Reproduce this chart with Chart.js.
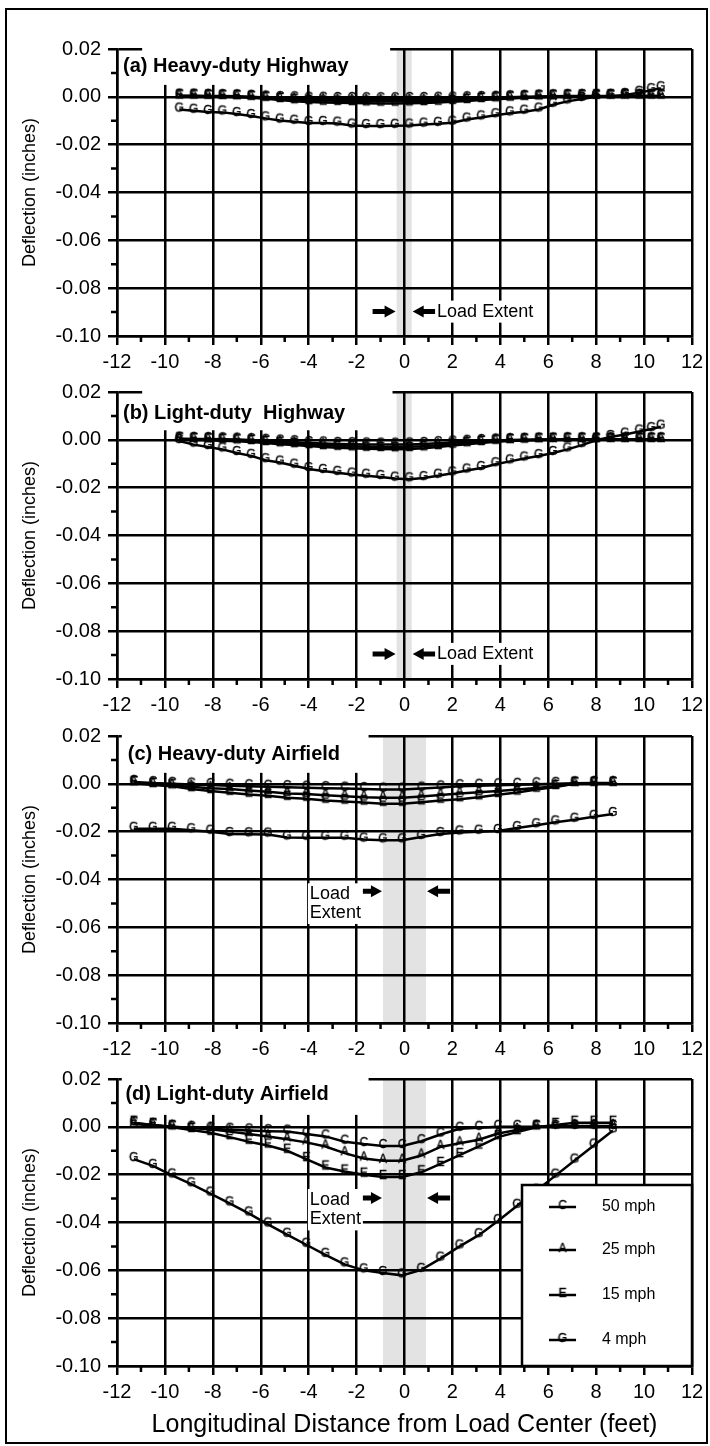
<!DOCTYPE html>
<html>
<head>
<meta charset="utf-8">
<script src="https://cdn.jsdelivr.net/npm/chart.js@4.4.1/dist/chart.umd.min.js"></script>
<style>
  html, body { margin: 0; padding: 0; background: #fff; }
  #page { position: relative; width: 710px; height: 1446px; overflow: hidden; }
  #page canvas { position: absolute; left: 0; }
  #frame { position: absolute; left: 5px; top: 8px; width: 699px; height: 1432px; border: 2px solid #000; }
</style>
</head>
<body>
<div id="page">
  <div id="frame"></div>
  <canvas id="panelA" width="710" height="375" style="top:5px"></canvas>
  <canvas id="panelB" width="710" height="375" style="top:348px"></canvas>
  <canvas id="panelC" width="710" height="375" style="top:692px"></canvas>
  <canvas id="panelD" width="710" height="411" style="top:1035px"></canvas>
</div>
<script>
const FONT = "'Liberation Sans', Arial, Helvetica, sans-serif";
const LW = 2.5;

// gauge positions (feet from load centre)
const xHighway = [-9.4, -8.8, -8.2, -7.6, -7.0, -6.4, -5.8, -5.2, -4.6, -4.0, -3.4, -2.8, -2.2, -1.6, -1.0, -0.4,
  0.2, 0.8, 1.4, 2.0, 2.6, 3.2, 3.8, 4.4, 5.0, 5.6, 6.2, 6.8, 7.4, 8.0, 8.6, 9.2, 9.8, 10.3, 10.7];
const xAirfield = [-11.3, -10.5, -9.7, -8.9, -8.1, -7.3, -6.5, -5.7, -4.9, -4.1, -3.3, -2.5, -1.7, -0.9, -0.1,
  0.7, 1.5, 2.3, 3.1, 3.9, 4.7, 5.5, 6.3, 7.1, 7.9, 8.7];

// deflection (inches) - (a) heavy-duty highway
const heavyHwy50 = [0.0005, 0.0005, 0.0004, 0.0003, 0.0002, 0.0000, -0.0003, -0.0005, -0.0006, -0.0008, -0.0008, -0.0009,
  -0.0009, -0.0010, -0.0010, -0.0010, -0.0009, -0.0009, -0.0008, -0.0007, -0.0006, -0.0005, -0.0004, -0.0002, 0.0000,
  0.0001, 0.0002, 0.0003, 0.0003, 0.0004, 0.0004, 0.0004, 0.0004, 0.0004, 0.0004];
const heavyHwy25 = [0.0003, 0.0003, 0.0002, 0.0001, 0.0000, -0.0002, -0.0005, -0.0009, -0.0012, -0.0014, -0.0015, -0.0016,
  -0.0017, -0.0018, -0.0018, -0.0018, -0.0017, -0.0017, -0.0016, -0.0014, -0.0011, -0.0009, -0.0007, -0.0005, -0.0003,
  -0.0001, 0.0000, 0.0001, 0.0002, 0.0002, 0.0002, 0.0002, 0.0003, 0.0003, 0.0003];
const heavyHwy15 = [0.0002, 0.0002, 0.0001, 0.0000, -0.0001, -0.0004, -0.0008, -0.0013, -0.0018, -0.0022, -0.0024, -0.0025,
  -0.0026, -0.0027, -0.0028, -0.0028, -0.0027, -0.0026, -0.0024, -0.0021, -0.0017, -0.0013, -0.0010, -0.0007, -0.0004,
  -0.0002, 0.0000, 0.0001, 0.0001, 0.0002, 0.0002, 0.0002, 0.0002, 0.0002, 0.0002];
const heavyHwy4 = [-0.0053, -0.0058, -0.0063, -0.0065, -0.0072, -0.0080, -0.0090, -0.0099, -0.0104, -0.0109, -0.0109, -0.0112,
  -0.0120, -0.0122, -0.0122, -0.0121, -0.0120, -0.0116, -0.0113, -0.0108, -0.0095, -0.0086, -0.0077, -0.0069, -0.0062,
  -0.0053, -0.0033, -0.0019, -0.0009, 0.0000, 0.0002, 0.0008, 0.0017, 0.0028, 0.0036];

// (b) light-duty highway
const lightHwy50 = [0.0005, 0.0004, 0.0003, 0.0002, 0.0001, -0.0001, -0.0004, -0.0007, -0.0010, -0.0013, -0.0015, -0.0017,
  -0.0018, -0.0019, -0.0020, -0.0020, -0.0019, -0.0017, -0.0014, -0.0011, -0.0008, -0.0005, -0.0003, -0.0001, 0.0000,
  0.0001, 0.0001, 0.0002, 0.0002, 0.0002, 0.0002, 0.0002, 0.0002, 0.0002, 0.0002];
const lightHwy25 = [0.0003, 0.0002, 0.0001, 0.0000, -0.0002, -0.0004, -0.0008, -0.0012, -0.0016, -0.0020, -0.0023, -0.0025,
  -0.0027, -0.0029, -0.0030, -0.0030, -0.0029, -0.0027, -0.0023, -0.0018, -0.0013, -0.0009, -0.0005, -0.0003, -0.0001,
  0.0000, 0.0000, 0.0001, 0.0001, 0.0001, 0.0001, 0.0001, 0.0001, 0.0001, 0.0001];
const lightHwy15 = [0.0002, 0.0000, -0.0002, -0.0004, -0.0006, -0.0009, -0.0013, -0.0018, -0.0022, -0.0026, -0.0030, -0.0033,
  -0.0035, -0.0037, -0.0038, -0.0039, -0.0038, -0.0035, -0.0030, -0.0024, -0.0018, -0.0013, -0.0008, -0.0005, -0.0003,
  -0.0001, 0.0000, 0.0000, 0.0000, 0.0000, 0.0000, 0.0000, 0.0000, 0.0000, 0.0000];
const lightHwy4 = [-0.0005, -0.0020, -0.0030, -0.0040, -0.0055, -0.0067, -0.0085, -0.0095, -0.0108, -0.0122, -0.0130, -0.0138,
  -0.0145, -0.0150, -0.0155, -0.0162, -0.0165, -0.0160, -0.0150, -0.0140, -0.0128, -0.0118, -0.0102, -0.0090, -0.0078,
  -0.0068, -0.0055, -0.0040, -0.0022, -0.0002, 0.0012, 0.0022, 0.0035, 0.0045, 0.0055];

// (c) heavy-duty airfield
const heavyAir50 = [0.0008, 0.0003, 0.0000, -0.0003, -0.0005, -0.0008, -0.0010, -0.0012, -0.0014, -0.0016, -0.0018, -0.0020,
  -0.0022, -0.0024, -0.0024, -0.0020, -0.0015, -0.0010, -0.0008, -0.0006, -0.0004, -0.0002, 0.0000, 0.0002, 0.0003, 0.0003];
const heavyAir25 = [0.0005, -0.0002, -0.0008, -0.0012, -0.0018, -0.0022, -0.0028, -0.0033, -0.0040, -0.0043, -0.0048, -0.0052,
  -0.0056, -0.0058, -0.0058, -0.0053, -0.0047, -0.0040, -0.0035, -0.0030, -0.0024, -0.0017, -0.0010, 0.0000, 0.0002, 0.0002];
const heavyAir15 = [0.0003, -0.0005, -0.0010, -0.0022, -0.0030, -0.0037, -0.0045, -0.0050, -0.0058, -0.0062, -0.0070, -0.0074,
  -0.0078, -0.0083, -0.0083, -0.0077, -0.0070, -0.0064, -0.0056, -0.0046, -0.0036, -0.0024, -0.0013, 0.0000, 0.0000, 0.0000];
const heavyAir4 = [-0.0188, -0.0188, -0.0188, -0.0194, -0.0200, -0.0210, -0.0211, -0.0212, -0.0224, -0.0225, -0.0225, -0.0225,
  -0.0233, -0.0236, -0.0236, -0.0222, -0.0210, -0.0203, -0.0200, -0.0197, -0.0185, -0.0173, -0.0161, -0.0150, -0.0138, -0.0126];

// (d) light-duty airfield
const lightAir50 = [0.0015, 0.0008, 0.0000, -0.0004, -0.0008, -0.0012, -0.0015, -0.0018, -0.0020, -0.0030, -0.0040, -0.0062,
  -0.0072, -0.0080, -0.0080, -0.0060, -0.0032, -0.0008, -0.0004, 0.0000, 0.0000, 0.0000, 0.0000, 0.0000, 0.0000, 0.0000];
const lightAir25 = [0.0012, 0.0006, 0.0000, -0.0005, -0.0010, -0.0020, -0.0030, -0.0040, -0.0052, -0.0065, -0.0082, -0.0110,
  -0.0132, -0.0142, -0.0142, -0.0120, -0.0084, -0.0069, -0.0054, -0.0028, -0.0013, 0.0000, 0.0002, 0.0003, 0.0003, 0.0003];
const lightAir15 = [0.0017, 0.0008, -0.0002, -0.0013, -0.0025, -0.0043, -0.0062, -0.0078, -0.0100, -0.0135, -0.0170, -0.0187,
  -0.0200, -0.0210, -0.0210, -0.0190, -0.0155, -0.0118, -0.0082, -0.0043, -0.0022, -0.0002, 0.0008, 0.0017, 0.0017, 0.0017];
const lightAir4 = [-0.0135, -0.0163, -0.0203, -0.0240, -0.0279, -0.0320, -0.0362, -0.0408, -0.0451, -0.0493, -0.0535, -0.0575,
  -0.0600, -0.0611, -0.0621, -0.0598, -0.0551, -0.0500, -0.0453, -0.0394, -0.0330, -0.0267, -0.0204, -0.0141, -0.0078, -0.0015];

const speedLabels = ['50 mph', '25 mph', '15 mph', '4 mph'];
const speedLetters = ['C', 'A', 'E', 'G'];
const panelTitles = ['(a) Heavy-duty Highway', '(b) Light-duty  Highway', '(c) Heavy-duty Airfield', '(d) Light-duty Airfield'];
const yAxisTitle = 'Deflection (inches)';
const xAxisTitle = 'Longitudinal Distance from Load Center (feet)';

// letter symbols used as point markers (letter sits just above the point)
function letterMarker(ch) {
  const c = document.createElement('canvas');
  c.width = 14;
  c.height = 20;
  const g = c.getContext('2d');
  g.fillStyle = '#000';
  g.strokeStyle = '#000';
  g.lineWidth = 0.4;
  g.font = `12px ${FONT}`;
  g.textAlign = 'center';
  g.textBaseline = 'alphabetic';
  g.fillText(ch, 7, 12);
  g.strokeText(ch, 7, 12);
  return c;
}
const markers = speedLetters.map(letterMarker);

function arrow(ctx, tipX, yc, dir) {
  const head = 11, shaft = 12, hw = 6, sw = 2.5;
  ctx.beginPath();
  ctx.moveTo(tipX, yc);
  ctx.lineTo(tipX - dir * head, yc - hw);
  ctx.lineTo(tipX - dir * head, yc - sw);
  ctx.lineTo(tipX - dir * (head + shaft), yc - sw);
  ctx.lineTo(tipX - dir * (head + shaft), yc + sw);
  ctx.lineTo(tipX - dir * head, yc + sw);
  ctx.lineTo(tipX - dir * head, yc + hw);
  ctx.closePath();
  ctx.fill();
}

const decor = {
  id: 'decor',
  beforeDraw(chart, args, o) {
    const { ctx, chartArea: a, scales: { x } } = chart;
    const x0 = x.getPixelForValue(o.band[0]);
    const x1 = x.getPixelForValue(o.band[1]);
    ctx.save();
    ctx.fillStyle = '#e3e3e3';
    ctx.fillRect(x0, a.top, x1 - x0, a.bottom - a.top);
    ctx.restore();
  },
  beforeDatasetsDraw(chart, args, o) {
    const { ctx, chartArea: a, scales: { x, y } } = chart;
    ctx.save();
    // title on its white patch
    const bx0 = x.getPixelForValue(o.titleBox[0]);
    const bx1 = x.getPixelForValue(o.titleBox[1]);
    const by1 = y.getPixelForValue(o.titleBox[2]);
    ctx.fillStyle = '#fff';
    ctx.fillRect(bx0, a.top - 3, bx1 - bx0, by1 - a.top + 3);
    ctx.fillStyle = '#000';
    ctx.font = `bold 20px ${FONT}`;
    ctx.textBaseline = 'middle';
    ctx.textAlign = 'left';
    ctx.fillText(o.title, x.getPixelForValue(o.titleAt[0]), y.getPixelForValue(o.titleAt[1]));

    // load extent arrows + label
    const ay = y.getPixelForValue(o.load.arrowY);
    arrow(ctx, x.getPixelForValue(o.band[0]) - 1, ay, 1);
    arrow(ctx, x.getPixelForValue(o.band[1]) + 1, ay, -1);
    ctx.font = `18px ${FONT}`;
    const rows = o.load.lines.map(([txt, xv, yv]) => ({ txt, px: x.getPixelForValue(xv), py: y.getPixelForValue(yv), w: ctx.measureText(txt).width }));
    const left = Math.min(...rows.map(r => r.px)) - 2;
    const right = Math.max(...rows.map(r => r.px + r.w)) + 2;
    const top = rows[0].py - 11;
    const bottom = rows[rows.length - 1].py + 11;
    ctx.fillStyle = '#fff';
    ctx.fillRect(left, top, right - left, bottom - top);
    ctx.fillStyle = '#000';
    rows.forEach(r => ctx.fillText(r.txt, r.px, r.py));
    ctx.restore();
  },
  afterDatasetsDraw(chart, args, o) {
    if (!o.legend) return;
    const { ctx, chartArea: a, scales: { x, y } } = chart;
    const lg = o.legend;
    const l = Math.round(x.getPixelForValue(lg.left));
    const t = Math.round(y.getPixelForValue(lg.top));
    ctx.save();
    ctx.fillStyle = '#fff';
    ctx.fillRect(l, t, a.right - l, a.bottom - t);
    ctx.strokeStyle = '#000';
    ctx.lineWidth = LW;
    ctx.strokeRect(l + 1, t + 1, a.right - l - 1, a.bottom - t - 1);
    ctx.font = `16px ${FONT}`;
    ctx.textBaseline = 'middle';
    ctx.fillStyle = '#000';
    chart.data.datasets.forEach((ds, i) => {
      const yy = Math.round(y.getPixelForValue(lg.rows[i]));
      const x0 = x.getPixelForValue(lg.lineFrom);
      const x1 = x.getPixelForValue(lg.lineTo);
      ctx.beginPath();
      ctx.moveTo(x0, yy);
      ctx.lineTo(x1, yy);
      ctx.stroke();
      ctx.drawImage(ds.pointStyle, (x0 + x1) / 2 - 7, yy - 10);
      ctx.fillText(ds.label, x.getPixelForValue(lg.textAt), yy);
    });
    ctx.restore();
  },
  afterDraw(chart) {
    // minor ticks
    const { ctx, chartArea: a, scales: { x, y } } = chart;
    ctx.save();
    ctx.strokeStyle = '#000';
    ctx.lineWidth = LW;
    ctx.beginPath();
    for (let v = -11; v <= 11; v += 2) {
      const px = x.getPixelForValue(v);
      ctx.moveTo(px, a.bottom);
      ctx.lineTo(px, a.bottom + 6);
    }
    for (let k = 0; k < 6; k++) {
      const py = y.getPixelForValue(0.01 - 0.02 * k);
      ctx.moveTo(a.left, py);
      ctx.lineTo(a.left - 6, py);
    }
    ctx.stroke();
    ctx.restore();
  }
};

function makeSets(xs, cols) {
  return cols.map((ys, i) => ({
    label: speedLabels[i],
    data: xs.map((xv, j) => ({ x: xv, y: ys[j] })),
    borderColor: '#000',
    borderWidth: LW,
    pointStyle: markers[i],
    pointRadius: 3,
    pointHoverRadius: 3,
    fill: false,
    tension: 0
  }));
}

function panelOptions(p, last) {
  return {
    responsive: false,
    animation: false,
    devicePixelRatio: 1,
    events: [],
    layout: { padding: { top: 44, right: 18, left: 0, bottom: 0 } },
    plugins: { legend: { display: false }, tooltip: { enabled: false }, decor: p },
    scales: {
      x: {
        type: 'linear', min: -12, max: 12,
        ticks: { stepSize: 2, color: '#000', font: { family: FONT, size: 20 }, padding: 5, maxRotation: 0, autoSkip: false, callback: v => String(v) },
        grid: { color: '#000', lineWidth: LW, tickLength: 9 },
        border: { color: '#000', width: LW },
        title: { display: last, text: xAxisTitle, color: '#000', font: { family: FONT, size: 25 }, padding: { top: 0, bottom: 6 } },
        afterFit: s => { s.height = last ? 80 : 44; }
      },
      y: {
        type: 'linear', min: -0.1, max: 0.02,
        ticks: { stepSize: 0.02, color: '#000', font: { family: FONT, size: 20 }, padding: 7, callback: v => Math.abs(v) < 1e-9 ? '0.00' : v.toFixed(2) },
        grid: { color: '#000', lineWidth: LW, tickLength: 9 },
        border: { color: '#000', width: LW },
        title: { display: true, text: yAxisTitle, color: '#000', font: { family: FONT, size: 18 }, padding: { top: 19, bottom: 0 } },
        afterFit: s => { s.width = 117; }
      }
    }
  };
}

const panels = [
  { id: 'panelA', xs: xHighway, cols: [heavyHwy50, heavyHwy25, heavyHwy15, heavyHwy4],
    decor: { title: panelTitles[0], titleAt: [-11.75, 0.0125], titleBox: [-10.95, -0.6, 0.005], band: [-0.33, 0.3],
      load: { arrowY: -0.0898, lines: [['Load Extent', 1.36, -0.0898]] } } },
  { id: 'panelB', xs: xHighway, cols: [lightHwy50, lightHwy25, lightHwy15, lightHwy4],
    decor: { title: panelTitles[1], titleAt: [-11.75, 0.011], titleBox: [-10.95, -0.5, 0.004], band: [-0.33, 0.3],
      load: { arrowY: -0.0895, lines: [['Load Extent', 1.36, -0.0895]] } } },
  { id: 'panelC', xs: xAirfield, cols: [heavyAir50, heavyAir25, heavyAir15, heavyAir4],
    decor: { title: panelTitles[2], titleAt: [-11.55, 0.0122], titleBox: [-11.8, -1.5, 0.0046], band: [-0.9, 0.9],
      load: { arrowY: -0.0449, lines: [['Load', -3.95, -0.0462], ['Extent', -3.95, -0.054]] } } },
  { id: 'panelD', xs: xAirfield, cols: [lightAir50, lightAir25, lightAir15, lightAir4],
    decor: { title: panelTitles[3], titleAt: [-11.65, 0.0134], titleBox: [-11.8, -1.5, 0.005], band: [-0.9, 0.9],
      load: { arrowY: -0.0298, lines: [['Load', -3.95, -0.0306], ['Extent', -3.95, -0.0387]] },
      legend: { left: 4.86, top: -0.0239, rows: [-0.0335, -0.0517, -0.0704, -0.089], lineFrom: 6.03, lineTo: 7.16, textAt: 8.24 } } }
];

panels.forEach((p, i) => {
  new Chart(document.getElementById(p.id), {
    type: 'line',
    data: { datasets: makeSets(p.xs, p.cols) },
    options: panelOptions(p.decor, i === panels.length - 1),
    plugins: [decor]
  });
});
</script>
</body>
</html>
